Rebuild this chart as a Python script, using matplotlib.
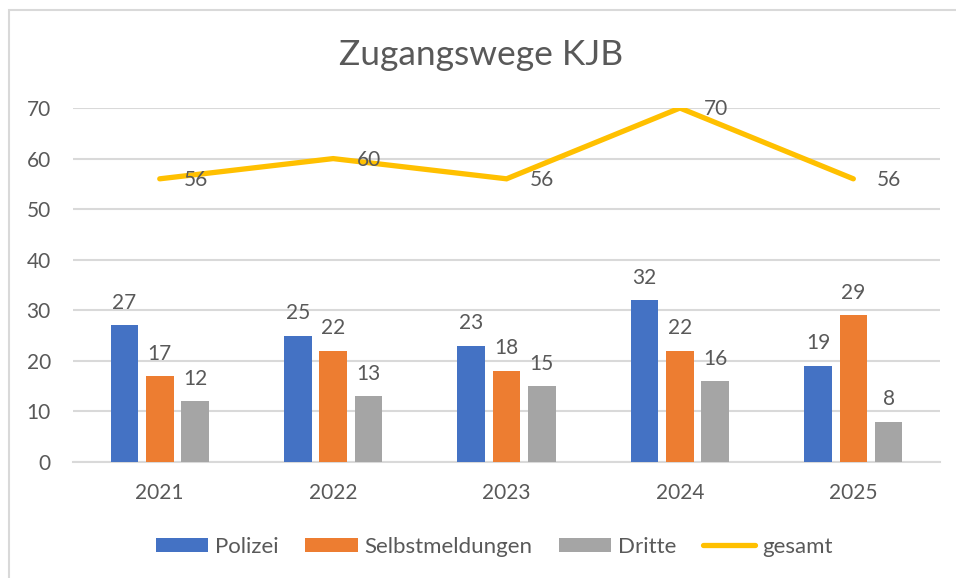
import numpy as np
import matplotlib
matplotlib.use('Agg')
import matplotlib.pyplot as plt
from matplotlib.patches import Rectangle

plt.rcParams['font.family'] = ['Lato', 'DejaVu Sans']

# data
jahre = ['2021', '2022', '2023', '2024', '2025']
polizei = [27, 25, 23, 32, 19]
selbst = [17, 22, 18, 22, 29]
dritte = [12, 13, 15, 16, 8]
gesamt = [56, 60, 56, 70, 56]
yticks = [0, 10, 20, 30, 40, 50, 60, 70]

txt = '#595959'
grid_c = '#D9D9D9'
farben = ['#4472C4', '#ED7D31', '#A5A5A5']

fig = plt.figure(figsize=(9.56, 5.78), dpi=100)
ax = fig.add_axes([0.0764, 0.2007, 0.9069, 0.6124])

# outer chart border (Excel style)
fig.patches.append(Rectangle((9/956, -0.1), 1.2, 1 - 10/578 + 0.1, transform=fig.transFigure,
                             fill=False, edgecolor=grid_c, linewidth=1.5))

x = np.arange(len(jahre))
bw = 0.159
off = 0.2035
serien = [('Polizei', polizei), ('Selbstmeldungen', selbst), ('Dritte', dritte)]
handles = []
for i, (name, vals) in enumerate(serien):
    xs = x + (i - 1) * off
    b = ax.bar(xs, vals, width=bw, color=farben[i], label=name, zorder=3)
    handles.append(b)
    for xi, v in zip(xs, vals):
        ax.annotate(str(v), (xi, v), xytext=(0, 9), textcoords='offset points',
                    ha='center', va='bottom', fontsize=15, color=txt)

ln, = ax.plot(x, gesamt, color='#FFC000', linewidth=3.8, solid_capstyle='round',
              solid_joinstyle='miter', label='gesamt', zorder=4)
handles.append(ln)
for xi, v in zip(x, gesamt):
    ax.annotate(str(v), (xi, v), xytext=(17, -1), textcoords='offset points',
                ha='left', va='center', fontsize=15, color=txt, zorder=5)

ax.set_xlim(-0.5, len(jahre) - 0.5)
ax.set_ylim(0, 70)
ax.set_yticks(yticks)
ax.set_xticks(x)
ax.set_xticklabels(jahre)
ax.tick_params(axis='both', length=0, labelsize=15, labelcolor=txt)
ax.tick_params(axis='y', pad=16)
ax.tick_params(axis='x', pad=15)
ax.grid(axis='y', color=grid_c, linewidth=1.5, zorder=0)
for s in ['top', 'right', 'left']:
    ax.spines[s].set_visible(False)
ax.spines['bottom'].set_color(grid_c)
ax.spines['bottom'].set_linewidth(1.5)

fig.text(0.503, 0.905, 'Zugangswege KJB', ha='center', va='center', fontsize=25.5, color=txt)

fig.legend(handles=handles, labels=[h.get_label() for h in handles],
           loc='center', bbox_to_anchor=(0.517, 0.054), ncol=4, frameon=False,
           fontsize=16, labelcolor=txt, handlelength=2.35, handleheight=0.65,
           handletextpad=0.3, columnspacing=1.2)

fig.savefig('out.png', dpi=100)
